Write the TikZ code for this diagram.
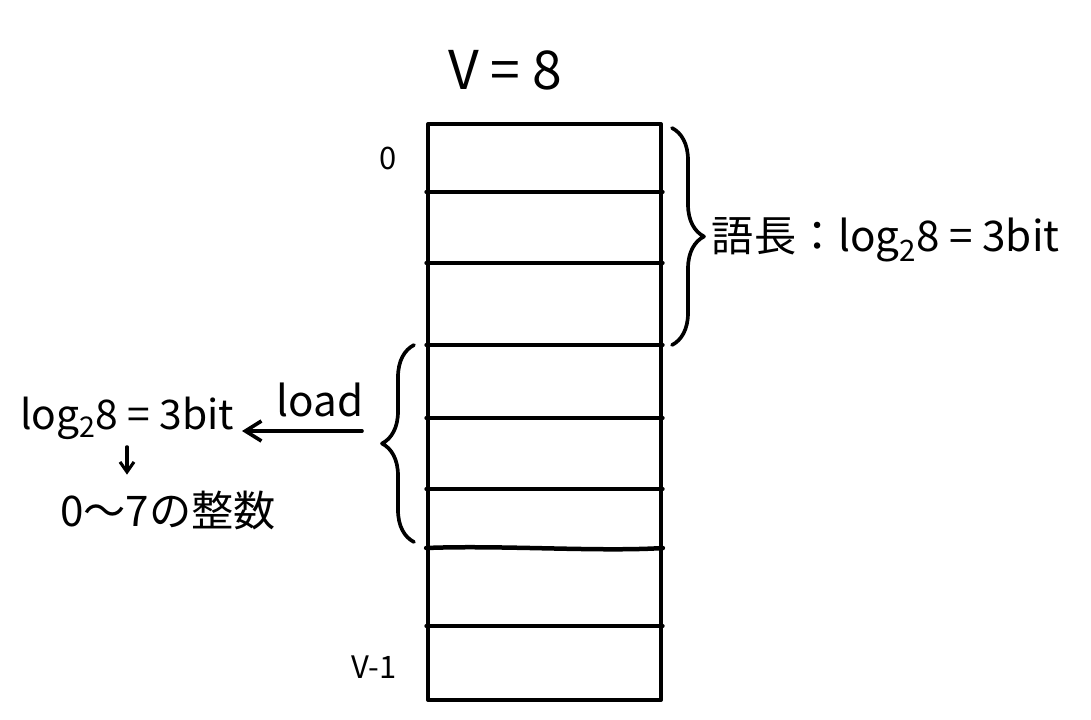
\documentclass[tikz,border=0pt]{standalone}
\usepackage{fontspec}
\setmainfont{Noto Sans CJK JP}
\usetikzlibrary{arrows.meta,positioning,decorations.pathreplacing}

\begin{document}
\begin{tikzpicture}
[x=0.025cm, y=-0.025cm, line width=2.6pt, line cap=round, line join=round,
>={Straight Barb[length=4mm,width=5mm]},
memrect/.style={rectangle,draw=black,minimum width=5.825cm,minimum height=14.4cm,inner sep=0pt},
bigbrace/.style={decorate,decoration={brace,amplitude=0.8cm}},
handtext/.style={inner sep=0pt,font=\fontsize{30}{34}\selectfont},
smalltext/.style={inner sep=0pt,font=\fontsize{22}{26}\selectfont}
]
\useasboundingbox (0,0) rectangle (1091,719);

% memory block
\node[memrect] (mem) at (544.5,412) {};
\foreach \y in {192,263,345,418,489,626} {
  \draw (mem.west |- 0,\y) -- (mem.east |- 0,\y);
}
% the hand drawn line
\draw[line width=3.2pt] (mem.west |- 0,548) .. controls (500,545) and (600,552) .. (mem.east |- 0,548);

% labels
\node[handtext,font=\fontsize{38}{42}\selectfont] (vsize) at (505,70) {V = 8};
\node[smalltext] (first) at (388,158) {0};
\node[smalltext] (last) at (374,667) {V-1};

% word length
\coordinate (rbtop) at (672,128);
\coordinate (rbbot) at (672,345);
\draw[bigbrace] (rbtop) -- (rbbot);
\node[handtext,anchor=west] (wordlen) at (710,240) {語長：log\textsubscript{2}8 = 3bit};

% load
\coordinate (lbtop) at (414,345);
\coordinate (lbbot) at (414,542);
\draw[bigbrace] (lbbot) -- (lbtop);
\node[handtext,font=\fontsize{29}{33}\selectfont] (bits) at (127,418) {log\textsubscript{2}8 = 3bit};
\node[handtext] (range) at (168,510) {0～7の整数};
\coordinate (loadstart) at (362,431);
\coordinate (loadend) at (242,431);
\draw[->] (loadstart) -- node[handtext,above=3mm,pos=0.35] (loadlbl) {load} (loadend);
\draw[->,line width=2.2pt,>={Straight Barb[length=2.5mm,width=3.5mm]},shorten <=4pt,shorten >=10pt]
  (bits.south) -- (bits.south |- range.north);
\end{tikzpicture}
\end{document}
